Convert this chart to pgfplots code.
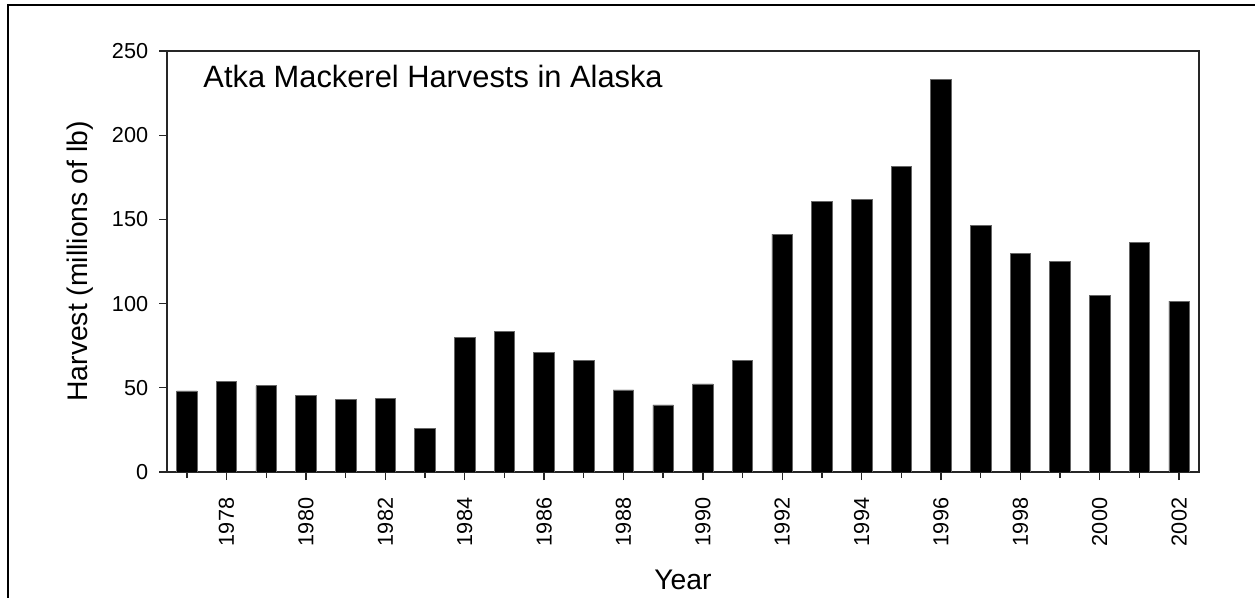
\documentclass[border=0pt]{standalone}
\usepackage{pgfplots}
\pgfplotsset{compat=1.18}
\usepackage{fontspec}
\setmainfont{Liberation Sans}
\begin{document}
\begin{tikzpicture}
\useasboundingbox (-100.2pt,-75.6pt) rectangle (652.8pt,283.2pt);
\draw[line width=1.2pt] (-95.4pt,-90pt) -- (-95.4pt,280.2pt) -- (670pt,280.2pt);
\begin{axis}[
  at={(0,0)}, anchor=south west,
  scale only axis, width=619.2pt, height=252.6pt,
  xmin=1976.5, xmax=2002.5, ymin=0, ymax=250,
  axis line style={line width=0.8pt, black!85},
  xtick={1978,1980,...,2002},
  minor xtick={1977,1979,...,2001},
  ytick={0,50,...,250},
  xtick pos=left, ytick pos=left,
  tick align=outside,
  major tick length=4.8pt, minor tick length=3.6pt,
  tick style={line width=0.8pt, black!85},
  /pgf/number format/assume math mode=true,
  /pgf/number format/1000 sep={},
  xticklabel style={rotate=90, anchor=east, font=\fontsize{13}{14}\selectfont, xshift=-7.2pt},
  yticklabel style={font=\fontsize{13}{14}\selectfont, xshift=-3pt},
  xlabel={Year},
  ylabel={Harvest (millions of lb)},
  label style={font=\fontsize{17}{20}\selectfont},
  xlabel style={at={(axis description cs:0.5,0)}, anchor=center, yshift=-64.8pt},
  ylabel style={at={(axis description cs:0,0.5)}, anchor=center, yshift=52.2pt},
]
\addplot[ybar, bar width=12.3pt, fill=black, draw=black!60, line width=0.4pt] coordinates {
(1977,48.1) (1978,53.6) (1979,51.2) (1980,45.3) (1981,43.3) (1982,43.9)
(1983,25.9) (1984,79.8) (1985,83.7) (1986,70.8) (1987,66.5) (1988,48.7)
(1989,39.8) (1990,52.3) (1991,66.3) (1992,141.3) (1993,160.7) (1994,161.7)
(1995,181.7) (1996,233.2) (1997,146.3) (1998,129.6) (1999,124.9) (2000,104.9)
(2001,136.4) (2002,101.4)
};
\node[anchor=base west, font=\fontsize{18.5}{22}\selectfont, inner sep=0pt] at (rel axis cs:0.035,0.914) {Atka Mackerel Harvests in Alaska};
\end{axis}
\end{tikzpicture}
\end{document}
